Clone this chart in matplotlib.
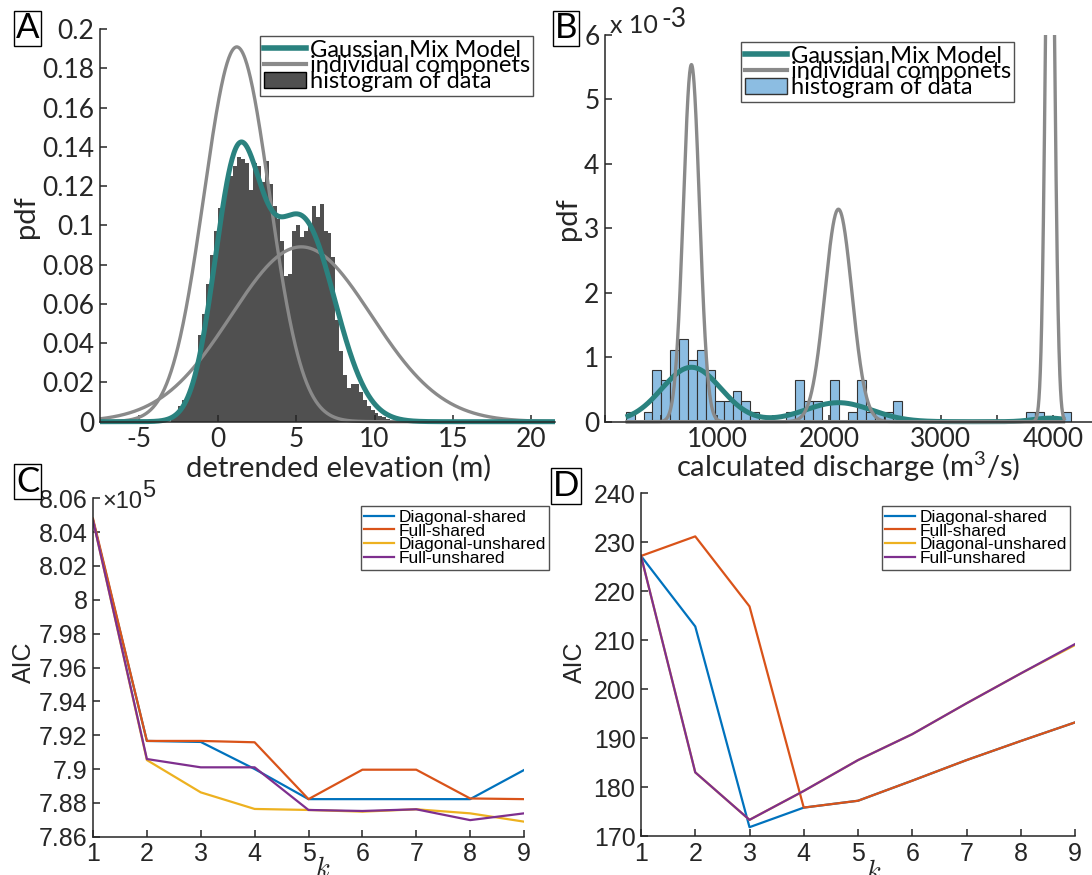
import numpy as np
import matplotlib
matplotlib.use("Agg")
import matplotlib.pyplot as plt
from matplotlib.lines import Line2D
from matplotlib.patches import Patch, Rectangle
from matplotlib.ticker import FuncFormatter

plt.rcParams["axes.unicode_minus"] = False
plt.rcParams["mathtext.fontset"] = "custom"
plt.rcParams["mathtext.rm"] = "Lato"
plt.rcParams["mathtext.it"] = "Lato:italic"
plt.rcParams["mathtext.bf"] = "Lato:bold"

# ---------------- data ----------------
# A: detrended elevation histogram (pdf-normalised), 0.25 m bins starting at -3 m
elev_bin_start = -3.0
elev_bin_width = 0.25
elev_density = [
    0.002, 0.004, 0.008, 0.011, 0.012, 0.018, 0.027, 0.044, 0.055, 0.070, 0.085, 0.097,
    0.109, 0.115, 0.121, 0.125, 0.130, 0.135, 0.134, 0.132, 0.118, 0.132, 0.130, 0.122,
    0.133, 0.121, 0.110, 0.103,
    0.092, 0.074, 0.075, 0.097, 0.100, 0.094, 0.097, 0.100, 0.110, 0.104, 0.111, 0.097,
    0.096, 0.084, 0.052, 0.036,
    0.024, 0.017, 0.019, 0.019, 0.015, 0.011, 0.008, 0.006, 0.0045, 0.003, 0.0025,
    0.0015, 0.001,
]
# two-component Gaussian mixture fitted to elevation
elev_means = [1.22, 5.33]
elev_sigma = [1.45, 2.12]
elev_weights = [0.453, 0.547]
elev_component_width = [2.09, 4.48]   # widths used for the component curves

# B: calculated discharge histogram (pdf-normalised), 79.5 m3/s bins from 185
disc_bin_start = 185.0
disc_bin_width = 79.5
disc_density_e3 = [
    0.155, 0.0, 0.155, 0.80, 0.65, 1.12, 1.28, 0.96, 1.12, 0.80,
    0.32, 0.32, 0.48, 0.32, 0.155, 0.0, 0.0, 0.0, 0.155, 0.65,
    0.32, 0.32, 0.0, 0.65, 0.0, 0.155, 0.65, 0.155, 0.155, 0.155,
    0.32, 0.0, 0.0, 0.0, 0.0, 0.0, 0.0, 0.0, 0.0, 0.0,
    0.0, 0.0, 0.0, 0.0, 0.0, 0.155, 0.155, 0.0, 0.0, 0.155,
]
disc_means = [772.0, 2085.0, 3975.0]
disc_sigma = [265.0, 300.0, 150.0]
disc_weights = [0.561, 0.222, 0.0207]
disc_component_width = [72.0, 121.0, 38.0]
disc_range = [185.0, 4110.0]

# C, D: AIC against number of components k
k_values = [1, 2, 3, 4, 5, 6, 7, 8, 9]
series_names = ["Diagonal-shared", "Full-shared", "Diagonal-unshared", "Full-unshared"]
aic_elev = {
    "Diagonal-shared":   [804700, 791660, 791600, 790000, 788220, 788220, 788220, 788220, 789940],
    "Full-shared":       [804800, 791660, 791660, 791580, 788220, 789960, 789960, 788260, 788220],
    "Diagonal-unshared": [804700, 790530, 788620, 787640, 787580, 787480, 787620, 787380, 786890],
    "Full-unshared":     [804700, 790590, 790100, 790100, 787580, 787520, 787620, 786980, 787380],
}
aic_disc = {
    "Diagonal-shared":   [227.2, 212.8, 171.8, 175.8, 177.2, 181.3, 185.5, 189.4, 193.2],
    "Full-shared":       [227.2, 231.2, 216.9, 175.8, 177.2, 181.3, 185.5, 189.4, 193.2],
    "Diagonal-unshared": [227.2, 183.0, 173.3, 179.2, 185.5, 190.8, 197.1, 203.2, 209.0],
    "Full-unshared":     [227.2, 183.0, 173.3, 179.2, 185.5, 190.8, 197.1, 203.2, 209.2],
}
series_colors = ["#0072BD", "#D95319", "#EDB120", "#7E2F8E"]

# ---------------- style ----------------
INK = "#262626"
TEAL = "#2a827f"
GREY = "#8a8a8a"
HIST_DARK = "#505050"
HIST_BLUE = "#8cbde2"
HUMAN = "Lato"
ARIAL = "Liberation Sans"
TICK_H = 19      # tick labels, panels A/B
LABEL_H = 21     # axis labels, panels A/B
LEG_H = 17       # legend, panels A/B
TICK_A = 18      # tick labels, panels C/D

W, H = 1092, 875
fig = plt.figure(figsize=(W / 100, H / 100), dpi=100)


def rect(l, t, r, b):
    return [l / W, 1 - b / H, (r - l) / W, (b - t) / H]


def normpdf(x, mu, sd):
    return np.exp(-0.5 * ((x - mu) / sd) ** 2) / (sd * np.sqrt(2 * np.pi))


def style(ax, family, size):
    for s in ("top", "right"):
        ax.spines[s].set_visible(False)
    for s in ("left", "bottom"):
        ax.spines[s].set_color(INK)
        ax.spines[s].set_linewidth(1.1)
    ax.tick_params(direction="in", length=5, width=1.1, color=INK,
                   labelcolor=INK, labelsize=size, pad=4, labelfontfamily=family)


def panel_letter(x, y, letter):
    fig.text(x / W, 1 - y / H, letter, family=HUMAN, size=25, ha="center", va="center",
             color="black",
             bbox=dict(boxstyle="square,pad=0.05", fc="white", ec="black", lw=1.0))


def pdf_legend(ax, handles, xy):
    lg = ax.legend(handles, ["Gaussian Mix Model", "individual componets", "histogram of data"],
                   loc="upper left", bbox_to_anchor=(xy[0] / W, 1 - xy[1] / H),
                   bbox_transform=fig.transFigure, prop={"family": HUMAN, "size": LEG_H},
                   frameon=True, fancybox=False, edgecolor=INK, borderpad=0.15,
                   labelspacing=-0.22, handlelength=1.8, handletextpad=0.15, borderaxespad=0)
    lg.get_frame().set_linewidth(1.0)
    for t in lg.get_texts():
        t.set_color("black")
    return lg


gfmt = FuncFormatter(lambda v, p: f"{v:g}")

# ---------------- A ----------------
axA = fig.add_axes(rect(100, 29, 555, 421.7))
style(axA, HUMAN, TICK_H)
edges_a = elev_bin_start + elev_bin_width * np.arange(len(elev_density) + 1)
axA.stairs(elev_density, edges_a, fill=True, color=HIST_DARK, lw=0)
xa = np.linspace(-7.5, 21.5, 800)
for mu, wd in zip(elev_means, elev_component_width):
    axA.plot(xa, normpdf(xa, mu, wd), color=GREY, lw=2.4, clip_on=False, solid_capstyle="butt")
mix_a = sum(w * normpdf(xa, mu, sd) for w, mu, sd in zip(elev_weights, elev_means, elev_sigma))
axA.plot(xa, mix_a, color=TEAL, lw=3.6, clip_on=False, solid_capstyle="butt")
axA.set_xlim(-7.5, 21.5)
axA.set_ylim(0, 0.2)
axA.set_xticks([-5, 0, 5, 10, 15, 20])
axA.set_yticks(np.arange(0, 0.2001, 0.02))
axA.yaxis.set_major_formatter(gfmt)
axA.text(0.524, -0.118, "detrended elevation (m)", transform=axA.transAxes, family=HUMAN,
         size=LABEL_H, ha="center", va="center", color=INK)
axA.text(-0.163, 0.521, "pdf", transform=axA.transAxes, family=HUMAN, size=LABEL_H,
         rotation=90, ha="center", va="center", color=INK)
pdf_legend(axA, [Line2D([], [], color=TEAL, lw=4), Line2D([], [], color=GREY, lw=3),
                 Patch(facecolor=HIST_DARK, edgecolor="black", lw=1)], (260, 36))

# ---------------- B ----------------
axB = fig.add_axes(rect(605, 35, 1092, 421.7))
style(axB, HUMAN, TICK_H)
edges_b = disc_bin_start + disc_bin_width * np.arange(len(disc_density_e3) + 1)
dens_b = np.array(disc_density_e3) * 1e-3
centers_b = 0.5 * (edges_b[:-1] + edges_b[1:])
keep = dens_b > 0
axB.bar(centers_b[keep], dens_b[keep], width=disc_bin_width, color=HIST_BLUE,
        edgecolor="#333333", lw=0.8)
clip_b = Rectangle((0, -0.02), 1, 1.02, transform=axB.transAxes, visible=False)
xb = np.linspace(disc_range[0], disc_range[1], 2000)
mix_b = sum(w * normpdf(xb, mu, sd) for w, mu, sd in zip(disc_weights, disc_means, disc_sigma))
ln, = axB.plot(xb, mix_b, color=TEAL, lw=3.6, solid_capstyle="butt")
ln.set_clip_path(clip_b)
for mu, wd in zip(disc_means, disc_component_width):
    ln, = axB.plot(xb, normpdf(xb, mu, wd), color=GREY, lw=2.4, solid_capstyle="butt")
    ln.set_clip_path(clip_b)
axB.set_xlim(0, 4350)
axB.set_ylim(0, 6e-3)
axB.set_xticks(np.arange(0, 4001, 500))
axB.set_xticklabels(["" if v % 1000 or v == 0 else str(v) for v in range(0, 4001, 500)])
axB.set_yticks(np.arange(0, 6.01e-3, 1e-3))
axB.yaxis.set_major_formatter(FuncFormatter(lambda v, p: f"{v * 1e3:g}"))
axB.text(0.499, -0.118, "calculated discharge (m$^3$/s)", transform=axB.transAxes,
         family=HUMAN, size=LABEL_H, ha="center", va="center", color=INK)
axB.text(-0.076, 0.524, "pdf", transform=axB.transAxes, family=HUMAN, size=LABEL_H,
         rotation=90, ha="center", va="center", color=INK)
fig.text(610 / W, 1 - 33 / H, "x 10", family=HUMAN, size=18, ha="left",
         va="baseline", color=INK)
fig.text(661 / W, 1 - 27 / H, "-3", family=HUMAN, size=19, ha="left",
         va="baseline", color=INK)
pdf_legend(axB, [Line2D([], [], color=TEAL, lw=4), Line2D([], [], color=GREY, lw=3),
                 Patch(facecolor=HIST_BLUE, edgecolor="#333333", lw=1)], (741, 42))


# ---------------- C, D ----------------
def aic_panel(ax, data, leg_xy):
    style(ax, ARIAL, TICK_A)
    for name, col in zip(series_names, series_colors):
        ax.plot(k_values, data[name], color=col, lw=1.6, label=name)
    ax.set_xlim(1, 9)
    ax.set_xticks(k_values)
    lg = ax.legend(loc="upper left", bbox_to_anchor=(leg_xy[0] / W, 1 - leg_xy[1] / H),
                   bbox_transform=fig.transFigure, prop={"family": ARIAL, "size": 12.5},
                   frameon=True, fancybox=False, edgecolor=INK, borderpad=0.2,
                   labelspacing=-0.07, handlelength=1.7, handletextpad=0.25, borderaxespad=0)
    lg.get_frame().set_linewidth(1.0)
    return lg


axC = fig.add_axes(rect(93, 498.3, 524, 836.7))
aic_panel(axC, aic_elev, (361, 506))
axC.set_ylim(786000, 806000)
axC.set_yticks(np.arange(786000, 806001, 2000))
axC.yaxis.set_major_formatter(FuncFormatter(lambda v, p: f"{v / 1e5:g}"))
axC.text(-0.160, 0.516, "AIC", transform=axC.transAxes, family=ARIAL, size=18,
         rotation=90, ha="center", va="center", color=INK)
axC.text(0.534, -0.095, "$k$", transform=axC.transAxes, size=19, ha="center",
         va="center", color=INK, math_fontfamily="cm")
fig.text(102 / W, 1 - 508 / H, "×10", family=ARIAL, size=17, ha="left",
         va="baseline", color=INK)
fig.text(142 / W, 1 - 497 / H, "5", family=ARIAL, size=17, ha="left",
         va="baseline", color=INK)

axD = fig.add_axes(rect(641, 493.3, 1075, 836))
aic_panel(axD, aic_disc, (882, 506))
axD.set_ylim(170, 240)
axD.set_yticks(np.arange(170, 241, 10))
axD.text(-0.152, 0.508, "AIC", transform=axD.transAxes, family=ARIAL, size=18,
         rotation=90, ha="center", va="center", color=INK)
axD.text(0.535, -0.105, "$k$", transform=axD.transAxes, size=19, ha="center",
         va="center", color=INK, math_fontfamily="cm")

panel_letter(27.5, 28.5, "A")
panel_letter(566, 28.5, "B")
panel_letter(27.5, 481.5, "C")
panel_letter(566, 486, "D")

fig.savefig("out.png", dpi=100, facecolor="white")
